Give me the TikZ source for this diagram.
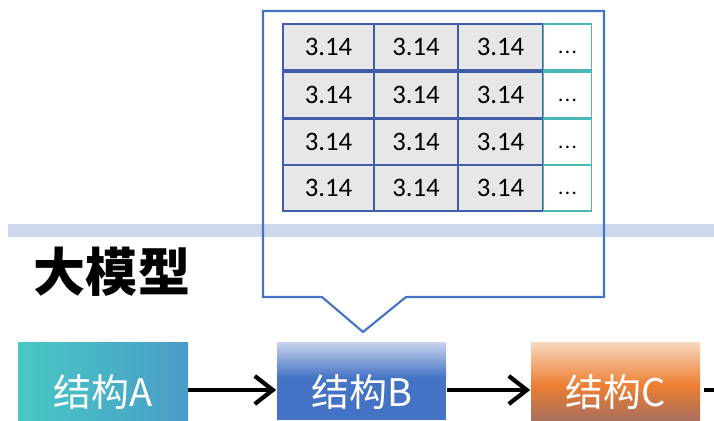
\documentclass[tikz,border=0pt]{standalone}
\usepackage{fontspec}
\setmainfont{Carlito}
\newfontfamily\cjk{Noto Sans CJK SC}
\usetikzlibrary{arrows.meta}
\definecolor{bandblue}{HTML}{CBD8EE}
\definecolor{calloutblue}{HTML}{4472C4}
\definecolor{cellgrey}{HTML}{E7E7E7}
\definecolor{cellline}{HTML}{3F5DA8}
\definecolor{dotline}{HTML}{4BB8B8}
\definecolor{tealA}{HTML}{48C8C4}
\definecolor{blueA}{HTML}{4A9CC8}
\definecolor{lightB}{HTML}{C8D4EF}
\definecolor{lightC}{HTML}{F8D8BE}
\definecolor{orangeC}{HTML}{ED7D31}
\definecolor{brownC}{HTML}{A9705C}
\tikzset{
  cell/.style={draw=cellline, line width=1.2pt, fill=cellgrey, minimum width=2.1cm, minimum height=1.15cm, font=\fontsize{19}{20}\selectfont, inner sep=0pt},
  dotcell/.style={cell, draw=dotline, line width=0.8pt, fill=white, minimum width=1.22cm, font=\fontsize{15}{16}\selectfont},
  block/.style={minimum width=4.25cm, minimum height=2.4cm, inner sep=0pt},
  blocktext/.style={font=\cjk\fontsize{27}{28}\selectfont, text=white, inner sep=0pt},
  flow/.style={line width=3pt, -{Straight Barb[length=4.5mm, width=7mm, line width=3pt]}}
}
\begin{document}
\begin{tikzpicture}[x=0.025cm, y=-0.025cm]
  \useasboundingbox (0,0) rectangle (714,420);
  \clip (0,0) rectangle (714,420);

  % band
  \fill[bandblue] (8,224) rectangle (714,237);

  % callout
  \coordinate (tip) at (363,332);
  \draw[calloutblue, line width=1.5pt] (263,11) -- (604,11) -- (604,297) -- (406,297)
    -- (tip) -- (322,297) -- (263,297) -- cycle;

  % table
  \foreach \r/\y in {1/47, 2/95, 3/142, 4/188} {
    \node (c\r1) at (328.5,\y) [cell, minimum width=2.275cm] {3.14};
    \node (c\r2) at (416,\y) [cell] {3.14};
    \node (c\r3) at (500.5,\y) [cell, minimum width=2.125cm] {3.14};
    \node (c\r4) at (567.5,\y) [dotcell] {\vphantom{3}.\kern1pt.\kern1pt.};
  }

  \node (title) at (112,272) [font=\cjk\bfseries\fontsize{37}{38}\selectfont, inner sep=0pt] {大模型};

  % blocks
  \node (A) at (103,390) [block] {};
  \node (B) at (361.5,390) [block] {};
  \node (C) at (615.5,390) [block] {};
  \shade[left color=tealA, right color=blueA] (18,342) rectangle (188,420);
  \shade[top color=lightB, bottom color=calloutblue] (277,342) rectangle (446,378);
  \fill[calloutblue] (277,377.5) rectangle (446,420);
  \shade[top color=lightC, bottom color=orangeC] (531,342) rectangle (700,386);
  \shade[top color=orangeC, bottom color=brownC] (531,385.5) rectangle (700,420);
  \node (textA) at (103,392) [blocktext] {结构A};
  \node (textB) at (361.5,392) [blocktext] {结构B};
  \node (textC) at (615.5,392) [blocktext] {结构C};

  \coordinate (out) at (720,390);
  \draw[flow] (A.east) -- (B.west);
  \draw[flow] (B.east) -- (C.west);
  \draw[line width=3pt] ([xshift=2pt]C.east) -- (out);
\end{tikzpicture}
\end{document}
